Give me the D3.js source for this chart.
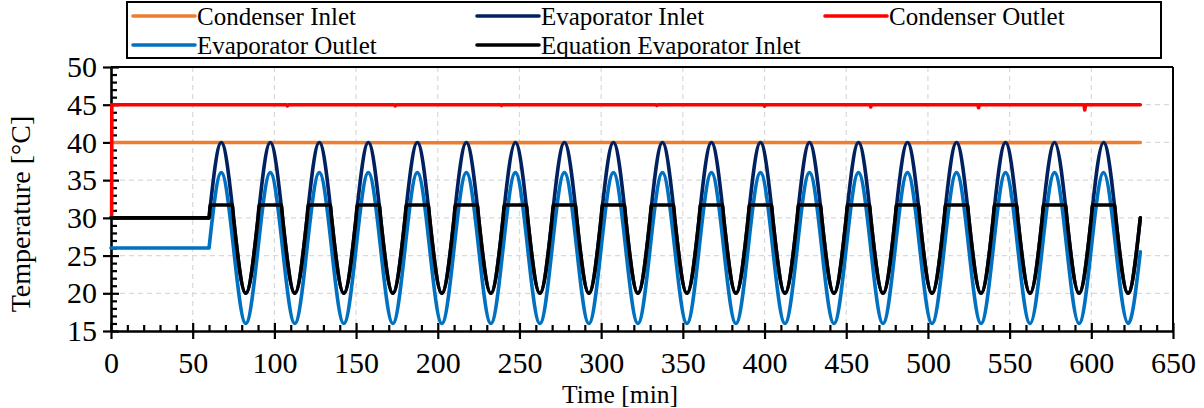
<!DOCTYPE html>
<html>
<head>
<meta charset="utf-8">
<script src="https://cdn.jsdelivr.net/npm/d3@7"></script>
<style>
  html, body { margin: 0; padding: 0; background: #fff; }
  svg { display: block; }
  svg text { font-family: "Liberation Serif", "Times New Roman", serif !important; fill: #000; }
</style>
</head>
<body>
<svg id="chart" width="1204" height="408"></svg>
<script>
// ---------------- DATA ----------------
const seriesNames = ["Condenser Inlet", "Evaporator Inlet", "Condenser Outlet", "Evaporator Outlet", "Equation Evaporator Inlet"];
const seriesColors = ["#ED7D31", "#002060", "#FF0000", "#0070C0", "#000000"];

const xTicks = [0, 50, 100, 150, 200, 250, 300, 350, 400, 450, 500, 550, 600, 650];
const yTicks = [15, 20, 25, 30, 35, 40, 45, 50];

// Condenser Inlet
const condInT = [0.5, 100, 200, 300, 400, 500, 630];
const condInV = [40, 40, 39.95, 40, 40, 39.95, 40];

// Condenser Outlet (small dips)
const condOutT = [0.4, 0.5, 107.5, 108, 108.5, 173.5, 174, 174.5, 238.5, 239, 239.5, 333.5, 334, 334.5,
                  399.5, 400, 400.5, 464.5, 465, 465.5, 530.5, 531, 531.5, 595.5, 596, 596.5, 630];
const condOutV = [30, 45, 45, 44.85, 45, 45, 44.85, 45, 45, 44.9, 45, 45, 44.9, 45,
                  45, 44.8, 45, 45, 44.7, 45, 45, 44.6, 45, 45, 44.3, 45, 45];

// Evaporator Inlet / Outlet (flat until 60 min, then oscillation, key points)
const evapT = [0, 60, 67.5, 75, 82.5, 90, 97.5, 105, 112.5, 120, 127.5, 135, 142.5, 150, 157.5, 165, 172.5,
  180, 187.5, 195, 202.5, 210, 217.5, 225, 232.5, 240, 247.5, 255, 262.5, 270, 277.5, 285, 292.5,
  300, 307.5, 315, 322.5, 330, 337.5, 345, 352.5, 360, 367.5, 375, 382.5, 390, 397.5, 405, 412.5,
  420, 427.5, 435, 442.5, 450, 457.5, 465, 472.5, 480, 487.5, 495, 502.5, 510, 517.5, 525, 532.5,
  540, 547.5, 555, 562.5, 570, 577.5, 585, 592.5, 600, 607.5, 615, 622.5, 630];
const evapInV = [30, 30, 40, 30, 20, 30, 40, 30, 20, 30, 40, 30, 20, 30, 40, 30, 20,
  30, 40, 30, 20, 30, 40, 30, 20, 30, 40, 30, 20, 30, 40, 30, 20,
  30, 40, 30, 20, 30, 40, 30, 20, 30, 40, 30, 20, 30, 40, 30, 20,
  30, 40, 30, 20, 30, 40, 30, 20, 30, 40, 30, 20, 30, 40, 30, 20,
  30, 40, 30, 20, 30, 40, 30, 20, 30, 40, 30, 20, 30];
const evapOutV = [26, 26, 36, 26, 16, 26, 36, 26, 16, 26, 36, 26, 16, 26, 36, 26, 16,
  26, 36, 26, 16, 26, 36, 26, 16, 26, 36, 26, 16, 26, 36, 26, 16,
  26, 36, 26, 16, 26, 36, 26, 16, 26, 36, 26, 16, 26, 36, 26, 16,
  26, 36, 26, 16, 26, 36, 26, 16, 26, 36, 26, 16, 26, 36, 26, 16,
  26, 36, 26, 16, 26, 36, 26, 16, 26, 36, 26, 16, 25.5];

// Equation Evaporator Inlet (clipped at 31.7)
const eqT = [0, 60, 60.8, 74.2, 75, 82.5, 90, 90.8, 104.2, 105, 112.5, 120, 120.8, 134.2, 135, 142.5,
  150, 150.8, 164.2, 165, 172.5, 180, 180.8, 194.2, 195, 202.5, 210, 210.8, 224.2, 225, 232.5,
  240, 240.8, 254.2, 255, 262.5, 270, 270.8, 284.2, 285, 292.5, 300, 300.8, 314.2, 315, 322.5,
  330, 330.8, 344.2, 345, 352.5, 360, 360.8, 374.2, 375, 382.5, 390, 390.8, 404.2, 405, 412.5,
  420, 420.8, 434.2, 435, 442.5, 450, 450.8, 464.2, 465, 472.5, 480, 480.8, 494.2, 495, 502.5,
  510, 510.8, 524.2, 525, 532.5, 540, 540.8, 554.2, 555, 562.5, 570, 570.8, 584.2, 585, 592.5,
  600, 600.8, 614.2, 615, 622.5, 630];
const eqV = [30, 30, 31.7, 31.7, 30, 20, 30, 31.7, 31.7, 30, 20, 30, 31.7, 31.7, 30, 20,
  30, 31.7, 31.7, 30, 20, 30, 31.7, 31.7, 30, 20, 30, 31.7, 31.7, 30, 20,
  30, 31.7, 31.7, 30, 20, 30, 31.7, 31.7, 30, 20, 30, 31.7, 31.7, 30, 20,
  30, 31.7, 31.7, 30, 20, 30, 31.7, 31.7, 30, 20, 30, 31.7, 31.7, 30, 20,
  30, 31.7, 31.7, 30, 20, 30, 31.7, 31.7, 30, 20, 30, 31.7, 31.7, 30, 20,
  30, 31.7, 31.7, 30, 20, 30, 31.7, 31.7, 30, 20, 30, 31.7, 31.7, 30, 20,
  30, 31.7, 31.7, 30, 20, 30];

// ---------------- LAYOUT ----------------
const svg = d3.select("#chart");
const L = 111, R = 1173, T = 67, B = 331;
const x = d3.scaleLinear().domain([0, 650]).range([L, R]);
const y = d3.scaleLinear().domain([15, 50]).range([B, T]);
const SERIF = '"Liberation Serif", "Times New Roman", serif';
const TICK_FS = 30, TITLE_FS = 25.5, YTITLE_FS = 28, LEG_FS = 25;

// grid
const grid = svg.append("g");
grid.selectAll("line.gx").data(xTicks.slice(1, -1)).enter().append("line")
  .attr("x1", d => x(d)).attr("x2", d => x(d)).attr("y1", T).attr("y2", B)
  .attr("stroke", "#d9d9d9").attr("stroke-width", 1.2).attr("stroke-dasharray", "5,4");
grid.selectAll("line.gy").data(yTicks.slice(1, -1)).enter().append("line")
  .attr("x1", L).attr("x2", R).attr("y1", d => y(d)).attr("y2", d => y(d))
  .attr("stroke", "#d9d9d9").attr("stroke-width", 1.2).attr("stroke-dasharray", "5,4");

// frame top/right
svg.append("line").attr("x1", L).attr("x2", R).attr("y1", T).attr("y2", T).attr("stroke", "#000").attr("stroke-width", 2);
svg.append("line").attr("x1", R).attr("x2", R).attr("y1", T).attr("y2", B).attr("stroke", "#000").attr("stroke-width", 2);

// axes
const xAxisG = svg.append("g").attr("transform", `translate(0,${B})`);
xAxisG.call(d3.axisBottom(x).tickValues(xTicks).tickSize(8).tickSizeOuter(0).tickPadding(13).tickFormat(d3.format("d")));
const xIn = svg.append("g").attr("transform", `translate(0,${B})`);
xIn.call(d3.axisTop(x).tickValues(xTicks).tickSize(8).tickSizeOuter(0).tickFormat(""));
xIn.call(g => g.select(".domain").remove());
const xMinor = d3.range(0, 651, 10).filter(v => v % 50 !== 0);
const xMin = svg.append("g").attr("transform", `translate(0,${B})`);
xMin.call(d3.axisTop(x).tickValues(xMinor).tickSize(6).tickSizeOuter(0).tickFormat(""));
xMin.call(g => g.select(".domain").remove());

const yAxisG = svg.append("g").attr("transform", `translate(${L},0)`);
yAxisG.call(d3.axisLeft(y).tickValues(yTicks).tickSize(8).tickSizeOuter(0).tickPadding(6).tickFormat(d3.format("d")));
const yIn = svg.append("g").attr("transform", `translate(${L},0)`);
yIn.call(d3.axisRight(y).tickValues(yTicks).tickSize(8).tickSizeOuter(0).tickFormat(""));
yIn.call(g => g.select(".domain").remove());
const yMinor = d3.range(15, 50.5, 1).filter(v => v % 5 !== 0);
const yMin = svg.append("g").attr("transform", `translate(${L},0)`);
yMin.call(d3.axisRight(y).tickValues(yMinor).tickSize(6).tickSizeOuter(0).tickFormat(""));
yMin.call(g => g.select(".domain").remove());

svg.selectAll(".domain").attr("stroke", "#000").attr("stroke-width", 2.6);
svg.selectAll(".tick line").attr("stroke", "#000").attr("stroke-width", 2.2);
svg.selectAll("g").attr("font-family", null);
svg.selectAll(".tick text").style("font-family", SERIF).attr("font-size", TICK_FS).attr("fill", "#000");

// series (drawn over axes, as in the reference)
const plot = svg.append("g");
function toPts(ts, vs) { return ts.map((t, i) => [t, vs[i]]); }
const lin = d3.line().x(d => x(d[0])).y(d => y(d[1]));
const nat = d3.line().x(d => x(d[0])).y(d => y(d[1])).curve(d3.curveNatural);
const mono = d3.line().x(d => x(d[0])).y(d => y(d[1])).curve(d3.curveMonotoneX);
const SW = 3.6;
function drawPath(d, color) {
  plot.append("path").attr("d", d).attr("fill", "none").attr("stroke", color)
    .attr("stroke-width", SW).attr("stroke-linejoin", "round").attr("stroke-linecap", "round");
}
drawPath(lin(toPts(condInT, condInV)), seriesColors[0]);
const eiPts = toPts(evapT, evapInV);
drawPath(lin(eiPts.slice(0, 2)) + nat(eiPts.slice(1)).replace(/^M/, "L"), seriesColors[1]);
drawPath(lin(toPts(condOutT, condOutV)), seriesColors[2]);
const eoPts = toPts(evapT, evapOutV);
drawPath(lin(eoPts.slice(0, 2)) + nat(eoPts.slice(1)).replace(/^M/, "L"), seriesColors[3]);
drawPath(mono(toPts(eqT, eqV)), seriesColors[4]);

// axis titles
svg.append("text").attr("x", 620).attr("y", 403).attr("text-anchor", "middle")
  .style("font-family", SERIF).attr("font-size", TITLE_FS).text("Time [min]");
svg.append("text").attr("transform", "translate(30,214) rotate(-90)").attr("text-anchor", "middle")
  .style("font-family", SERIF).attr("font-size", YTITLE_FS).text("Temperature [°C]");

// legend
const leg = svg.append("g");
leg.append("rect").attr("x", 127).attr("y", 2).attr("width", 1034).attr("height", 56)
  .attr("fill", "#fff").attr("stroke", "#000").attr("stroke-width", 2);
const legPos = [[133, 16], [477, 16], [825, 16], [133, 45], [477, 45]];
seriesNames.forEach((name, i) => {
  const [lx, ly] = legPos[i];
  leg.append("line").attr("x1", lx).attr("x2", lx + 62).attr("y1", ly).attr("y2", ly)
    .attr("stroke", seriesColors[i]).attr("stroke-width", 3.6).attr("stroke-linecap", "round");
  leg.append("text").attr("x", lx + 64).attr("y", ly + 8.5).style("font-family", SERIF)
    .attr("font-size", LEG_FS).text(name);
});
</script>
</body>
</html>
